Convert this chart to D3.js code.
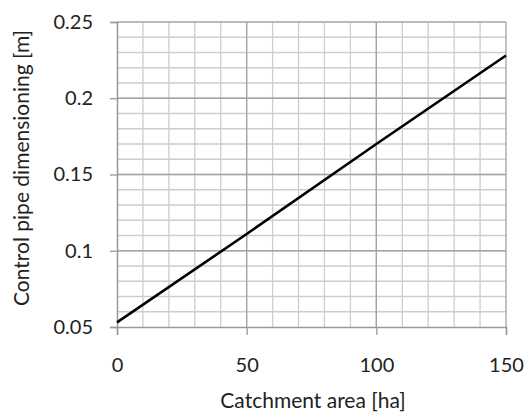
<!DOCTYPE html>
<html>
<head>
<meta charset="utf-8">
<script src="https://cdn.jsdelivr.net/npm/d3@7"></script>
<style>
  body { margin: 0; background: #fff; }
  text { font-family: Lato, "Open Sans", sans-serif; fill: #222; }
</style>
</head>
<body>
<div id="chart"></div>
<script>
// catchment area [ha] vs control pipe size [m]
var area = [0, 50, 100, 150]
var pipe = [0.053, 0.111, 0.170, 0.228]

var xTicks = [0, 50, 100, 150]
var yTicks = [0.05, 0.1, 0.15, 0.2, 0.25]

var margin = {top: 22, right: 18, bottom: 88, left: 117},
    width = 524 - margin.left - margin.right,
    height = 415 - margin.top - margin.bottom;

var svg = d3.select("#chart")
  .append("svg")
    .attr("width", 524)
    .attr("height", 415)
  .append("g")
    .attr("transform", "translate(" + margin.left + "," + margin.top + ")");

var x = d3.scaleLinear().domain([0, 150]).range([0, width]);
var y = d3.scaleLinear().domain([0.05, 0.25]).range([height, 0]);

// minor grid
svg.append("g")
  .selectAll("line.vx")
  .data(d3.range(10, 150, 10))
  .enter().append("line")
    .attr("x1", function(d) { return x(d) }).attr("x2", function(d) { return x(d) })
    .attr("y1", 0).attr("y2", height)
    .attr("stroke", "#cdcdcd").attr("stroke-width", 1.3);

svg.append("g")
  .selectAll("line.hy")
  .data(d3.range(6, 25).map(function(i) { return i / 100 }))
  .enter().append("line")
    .attr("x1", 0).attr("x2", width)
    .attr("y1", function(d) { return y(d) }).attr("y2", function(d) { return y(d) })
    .attr("stroke", "#cdcdcd").attr("stroke-width", 1.3);

// major grid
svg.append("g")
  .selectAll("line")
  .data(xTicks.slice(1))
  .enter().append("line")
    .attr("x1", function(d) { return x(d) }).attr("x2", function(d) { return x(d) })
    .attr("y1", 0).attr("y2", height)
    .attr("stroke", "#a3a3a3").attr("stroke-width", 1.3);

svg.append("g")
  .selectAll("line")
  .data(yTicks.slice(1))
  .enter().append("line")
    .attr("x1", 0).attr("x2", width)
    .attr("y1", function(d) { return y(d) }).attr("y2", function(d) { return y(d) })
    .attr("stroke", "#a3a3a3").attr("stroke-width", 1.3);

// axes
var xAxis = svg.append("g")
  .attr("transform", "translate(0," + height + ")")
  .call(d3.axisBottom(x).tickValues(xTicks).tickSizeOuter(0).tickSize(8).tickPadding(23).tickFormat(d3.format("d")));

var yAxis = svg.append("g")
  .call(d3.axisLeft(y).tickValues(yTicks).tickSizeOuter(0).tickSize(7).tickPadding(17).tickFormat(function(d) { return String(+d.toFixed(2)) }));

[xAxis, yAxis].forEach(function(a) {
  a.selectAll(".domain").attr("stroke", "#999").attr("stroke-width", 1.5);
  a.selectAll(".tick line").attr("stroke", "#999").attr("stroke-width", 1.3);
  a.selectAll("text").style("font-size", "20px").attr("fill", "#222");
});

// data line
var line = d3.line()
  .x(function(d, i) { return x(area[i]) })
  .y(function(d) { return y(d) });

svg.append("path")
  .datum(pipe)
  .attr("d", line)
  .attr("fill", "none")
  .attr("stroke", "#000")
  .attr("stroke-width", 2.6);

// axis titles
svg.append("text")
  .attr("x", 313 - margin.left)
  .attr("y", height + 81)
  .attr("text-anchor", "middle")
  .style("font-size", "21px")
  .text("Catchment area [ha]");

svg.append("text")
  .attr("transform", "translate(" + (29 - margin.left) + "," + (168 - margin.top) + ") rotate(-90)")
  .attr("text-anchor", "middle")
  .style("font-size", "21px")
  .text("Control pipe dimensioning [m]");
</script>
</body>
</html>
